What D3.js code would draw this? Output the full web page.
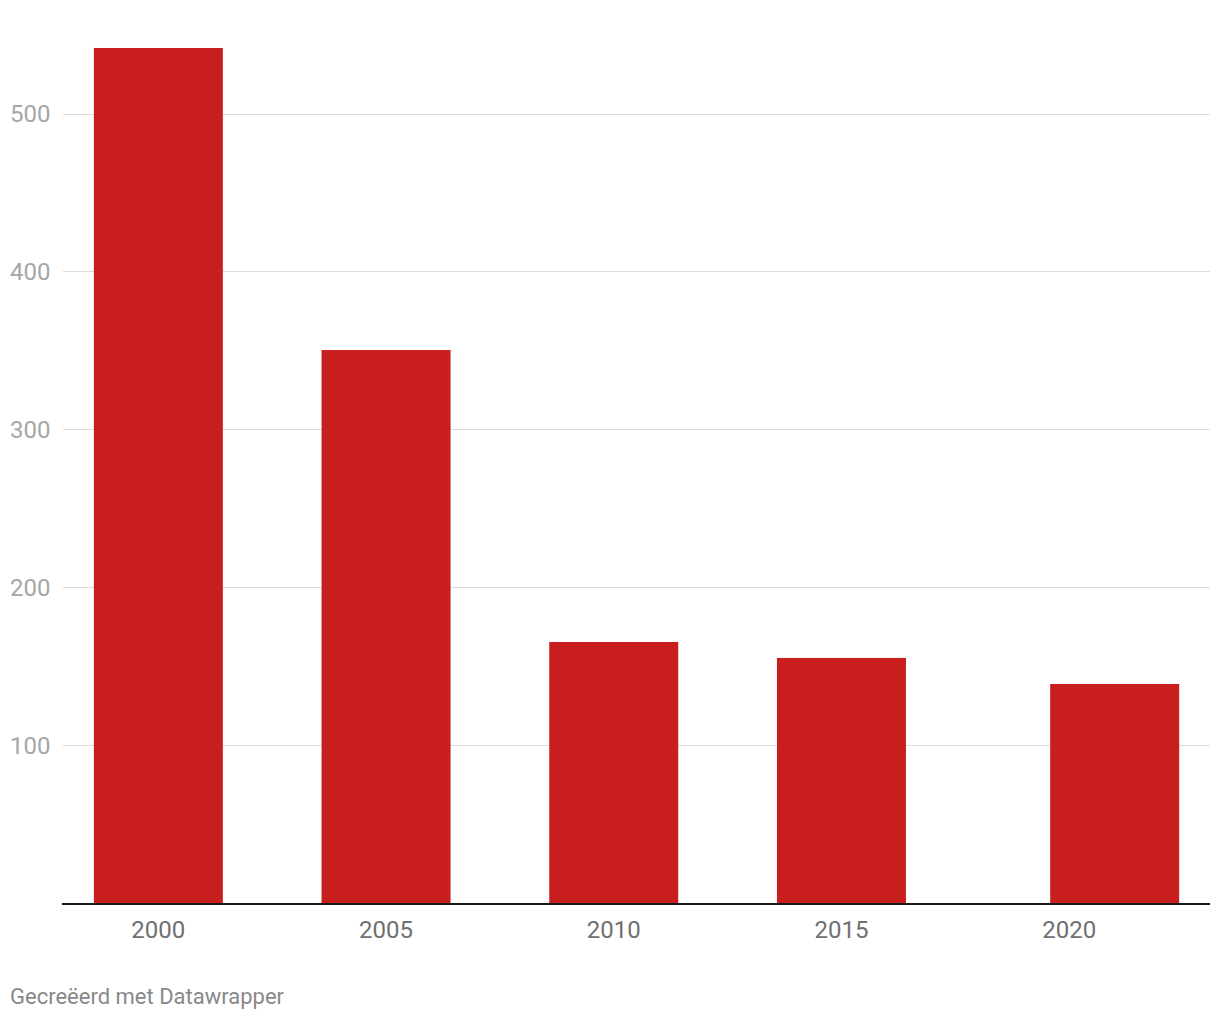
<!DOCTYPE html>
<html>
<head>
<meta charset="utf-8">
<script src="https://cdn.jsdelivr.net/npm/d3@7"></script>
<style>
  html, body { margin: 0; padding: 0; background: #fff; }
  svg { display: block; font-family: Roboto, "Noto Sans", sans-serif; }
</style>
</head>
<body>
<svg id="chart" width="1220" height="1020"></svg>
<script>
// Data
const years = [2000, 2005, 2010, 2015, 2021];
const values = [541.5, 350.2, 165.3, 155.2, 138.7];
const xTickLabels = [2000, 2005, 2010, 2015, 2020];
const yTickLabels = [100, 200, 300, 400, 500];
const footer = "Gecreëerd met Datawrapper";

const svg = d3.select("#chart");

const x = d3.scaleLinear().domain([2000, 2020]).range([158.35, 1069.15]);
const y = d3.scaleLinear().domain([0, 500]).range([903, 113.5]);
const barW = 129;
const plotLeft = 62, plotRight = 1210;

// Gridlines
const grid = svg.append("g");
grid.selectAll("line").data(yTickLabels).join("line")
  .attr("x1", plotLeft + 1).attr("x2", plotRight)
  .attr("y1", d => Math.round(y(d)) + 0.5).attr("y2", d => Math.round(y(d)) + 0.5)
  .attr("stroke", "#dcdcdc").attr("stroke-width", 1.2);

// Y labels
svg.append("g").selectAll("text").data(yTickLabels).join("text")
  .attr("x", 10).attr("y", d => y(d) + 8.8)
  .attr("font-size", 24).attr("fill", "#a6a6a6")
  .text(d => d);

// Bars
svg.append("g").selectAll("rect").data(years).join("rect")
  .attr("x", d => x(d) - barW / 2)
  .attr("width", barW)
  .attr("y", (d, i) => y(values[i]))
  .attr("height", (d, i) => y(0) - y(values[i]))
  .attr("fill", "#c81e1e");

// Baseline
svg.append("line")
  .attr("x1", plotLeft).attr("x2", plotRight)
  .attr("y1", y(0) + 1).attr("y2", y(0) + 1)
  .attr("stroke", "#1a1a1a").attr("stroke-width", 2);

// X axis labels
svg.append("g").selectAll("text").data(xTickLabels).join("text")
  .attr("x", d => x(d)).attr("y", 938)
  .attr("text-anchor", "middle")
  .attr("font-size", 24).attr("fill", "#707070")
  .text(d => d);

// Footer
svg.append("text")
  .attr("x", 10).attr("y", 1004)
  .attr("font-size", 22).attr("fill", "#888888")
  .text(footer);
</script>
</body>
</html>
